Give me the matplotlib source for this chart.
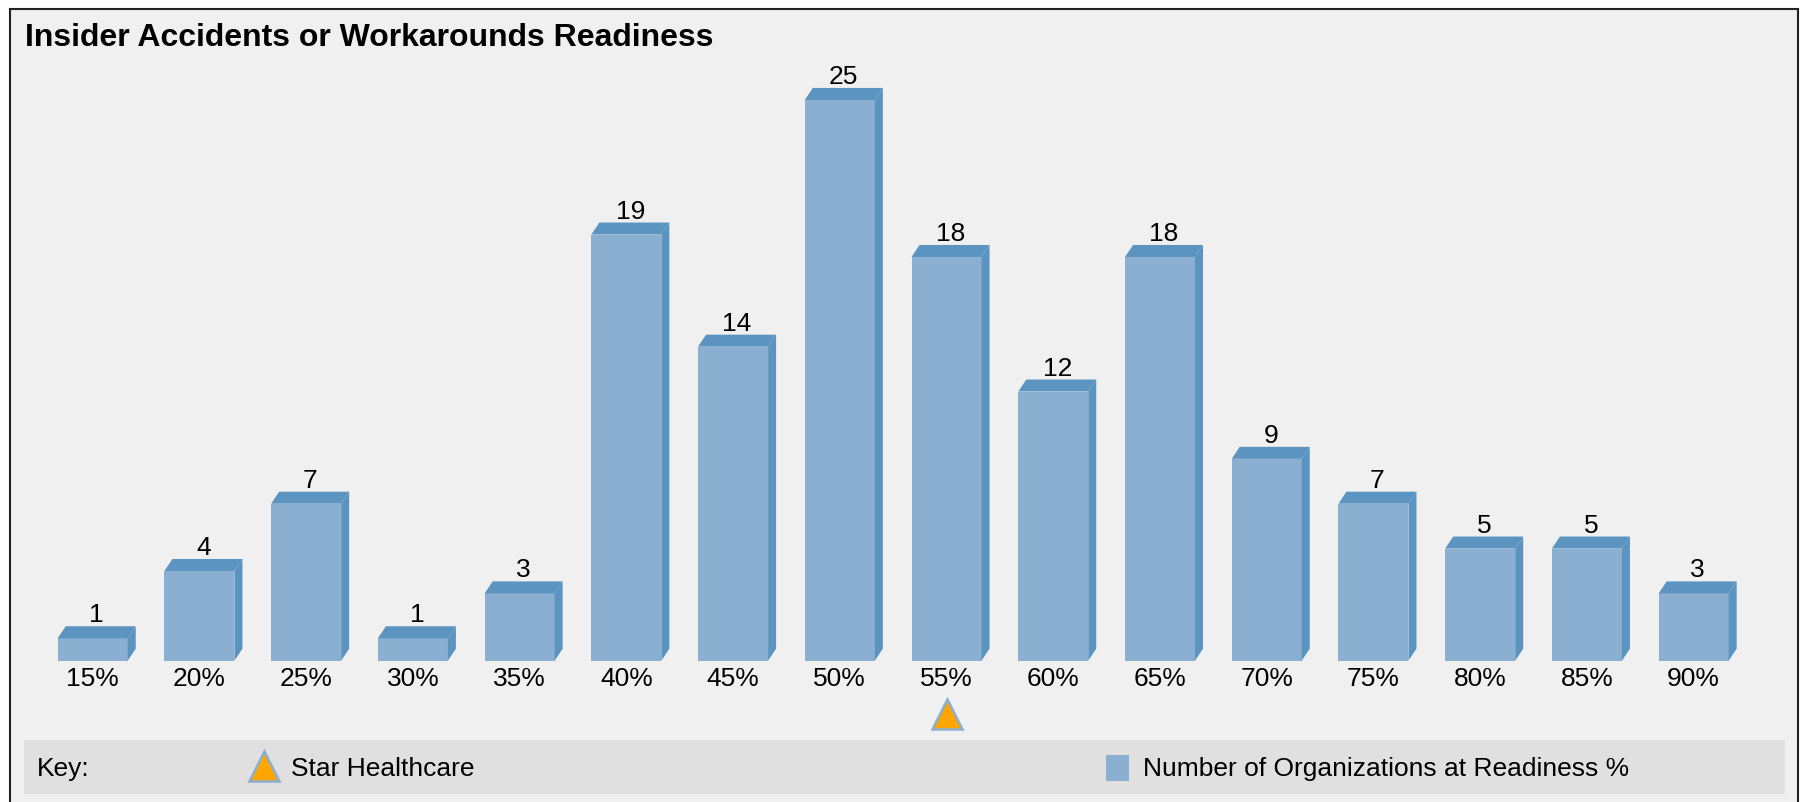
import numpy as np
import matplotlib
matplotlib.use('Agg')
import matplotlib.pyplot as plt
from matplotlib.patches import Polygon, Rectangle
from matplotlib.lines import Line2D
from matplotlib.transforms import ScaledTranslation

# readiness buckets and number of organizations in each
readiness = ['15%', '20%', '25%', '30%', '35%', '40%', '45%', '50%',
             '55%', '60%', '65%', '70%', '75%', '80%', '85%', '90%']
orgs = [1, 4, 7, 1, 3, 19, 14, 25, 18, 12, 18, 9, 7, 5, 5, 3]
star_bucket = '55%'

title = "Insider Accidents or Workarounds Readiness"
key_star = "Star Healthcare"
key_bars = "Number of Organizations at Readiness %"

W, H, DPI = 1810, 803, 100
front = '#8AAFD0'
shade = '#5B94C0'
orange = '#FFA500'
fs = 19

plt.rcParams['font.family'] = ['Liberation Sans', 'DejaVu Sans']

fig = plt.figure(figsize=(W / DPI, H / DPI), dpi=DPI)
fig.patch.set_facecolor('white')

# outer panel
fig.add_artist(Rectangle((10. / W, -0.02), (1798. - 10) / W, (H - 10.) / H + 0.02,
                         transform=fig.transFigure, fc='#F0F0F0', ec='#222222',
                         lw=1.5, zorder=-2))

# chart area, placed so 1 unit ~ 22.4 px
ppu = 22.43
ymax = 27
spacing = 106.73
x0_px = 92.7 - spacing / 2
ax = fig.add_axes([x0_px / W, 141.3 / H, 16 * spacing / W, ymax * ppu / H])
ax.set_facecolor('none')
ax.set_xlim(-0.5, 15.5)
ax.set_ylim(0, ymax)
for s in ax.spines.values():
    s.set_visible(False)

x = np.arange(len(readiness))
bw = 0.656
dx = 8.0 / spacing
dy = 12.0 / ppu

ax.bar(x, orgs, width=bw, color=front, zorder=2)
for xi, v in zip(x, orgs):
    l, r = xi - bw / 2, xi + bw / 2
    side = [(r, 0), (r + dx, dy), (r + dx, v + dy), (r, v)]
    top = [(l, v), (r, v), (r + dx, v + dy), (l + dx, v + dy)]
    ax.add_patch(Polygon(side, closed=True, fc=shade, ec='none', zorder=2))
    ax.add_patch(Polygon(top, closed=True, fc=shade, ec='none', zorder=2))
    ax.annotate(str(v), xy=(xi + dx / 2, v + dy), xytext=(0, 3.6),
                textcoords='offset points', ha='center', va='baseline',
                fontsize=fs)

ax.set_xticks(x)
ax.set_xticklabels(readiness, fontsize=fs)
ax.tick_params(axis='x', length=0, pad=4.0)
ax.set_yticks([])

# marker for Star Healthcare under its bucket
si = readiness.index(star_bucket)
ax.plot([si], [0], marker='^', ms=21, mfc=orange, mec=front, mew=1.8,
        ls='none', clip_on=False,
        transform=ax.transData + ScaledTranslation(0, -0.528, fig.dpi_scale_trans))

fig.text(25. / W, (H - 46.) / H, title, fontsize=23, fontweight='bold',
         va='baseline', ha='left')

# key band
fig.add_artist(Rectangle((24. / W, (H - 795.) / H), (1785. - 24) / W, 54. / H,
                         transform=fig.transFigure, fc='#E0E0E0', ec='none',
                         zorder=-1))
base = (H - 776.5) / H
fig.text(37. / W, base, "Key:", fontsize=fs, va='baseline')
fig.add_artist(Line2D([263.7 / W], [(H - 767.3) / H], marker='^', ms=21,
                      mfc=orange, mec=front, mew=1.8, ls='none',
                      transform=fig.transFigure))
fig.text(291. / W, base, key_star, fontsize=fs, va='baseline')
fig.add_artist(Rectangle((1106. / W, (H - 781.5) / H), 23. / W, 26. / H,
                         transform=fig.transFigure, fc=front, ec='none'))
fig.text(1143. / W, base, key_bars, fontsize=fs, va='baseline')

fig.savefig('out.png', dpi=DPI, facecolor=fig.get_facecolor())
